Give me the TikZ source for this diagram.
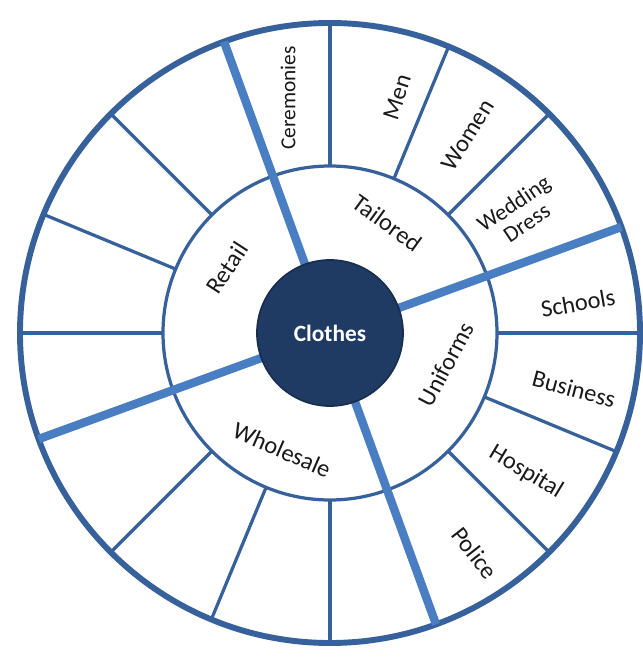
\documentclass[tikz,border=0pt]{standalone}
\usepackage{fontspec}
\setmainfont{Carlito}
\usetikzlibrary{positioning}
\definecolor{ringblue}{HTML}{36619A}
\definecolor{spokeblue}{HTML}{4A7EC2}
\definecolor{hubblue}{HTML}{1F3A63}
\tikzset{
  rim/.style={draw=ringblue,line width=4.2pt},
  divider/.style={draw=ringblue,line width=2.3pt},
  spoke/.style={draw=spokeblue,line width=6pt},
  lbl/.style={font=\fontsize{17.3}{18}\selectfont,text=black!90,inner sep=0pt,align=center}
}

\begin{document}
\begin{tikzpicture}[x=.025cm,y=.025cm]
\useasboundingbox (-330,-324) rectangle (313,333);
\coordinate (O) at (0,0);
\draw[divider] (O) circle[radius=167];
\draw[divider] (0:167) -- (0:310);
\draw[divider] (-22.5:167) -- (-22.5:310);
\draw[divider] (-45:167) -- (-45:310);
\draw[divider] (-90:167) -- (-90:310);
\draw[divider] (-112.5:167) -- (-112.5:310);
\draw[divider] (-135:167) -- (-135:310);
\draw[divider] (180:167) -- (180:310);
\draw[divider] (157.5:167) -- (157.5:310);
\draw[divider] (135:167) -- (135:310);
\draw[divider] (90:167) -- (90:310);
\draw[divider] (67.5:167) -- (67.5:310);
\draw[divider] (45:167) -- (45:310);
\draw[rim] (O) circle[radius=310];
\draw[spoke] (O) -- (20:310);
\draw[spoke] (O) -- (110:310);
\draw[spoke] (O) -- (200:310);
\draw[spoke] (O) -- (290:310);
\node[circle,fill=hubblue,draw=hubblue!80!black,line width=1.2pt,minimum size=3.65cm,
  text=white,font=\fontsize{16.6}{18}\selectfont\bfseries] (clothes) at (O) {Clothes};
% inner ring
\node[lbl,rotate=-36] (tailored) at (57,110) {Tailored};
\node[lbl,rotate=57] (retail) at (-103,65) {Retail};
\node[lbl,rotate=-23.5] (wholesale) at (-48,-117) {Wholesale};
\node[lbl,rotate=62] (uniforms) at (116,-31) {Uniforms};
% outer ring
\node[lbl,rotate=90,font=\fontsize{15.2}{16}\selectfont] (ceremonies) at (-42,235) {Ceremonies};
\node[lbl,rotate=72] (men) at (67,236) {Men};
\node[lbl,rotate=58] (women) at (138,198) {Women};
\node[lbl,rotate=34,font=\fontsize{16.2}{16.5}\selectfont] (wedding) at (190,120) {Wedding\\Dress};
\node[lbl,rotate=10] (schools) at (248,30) {Schools};
\node[lbl,rotate=-15] (business) at (244,-56) {Business};
\node[lbl,rotate=-31] (hospital) at (196,-139) {Hospital};
\node[lbl,rotate=-52] (police) at (145,-220) {Police};
\end{tikzpicture}
\end{document}
